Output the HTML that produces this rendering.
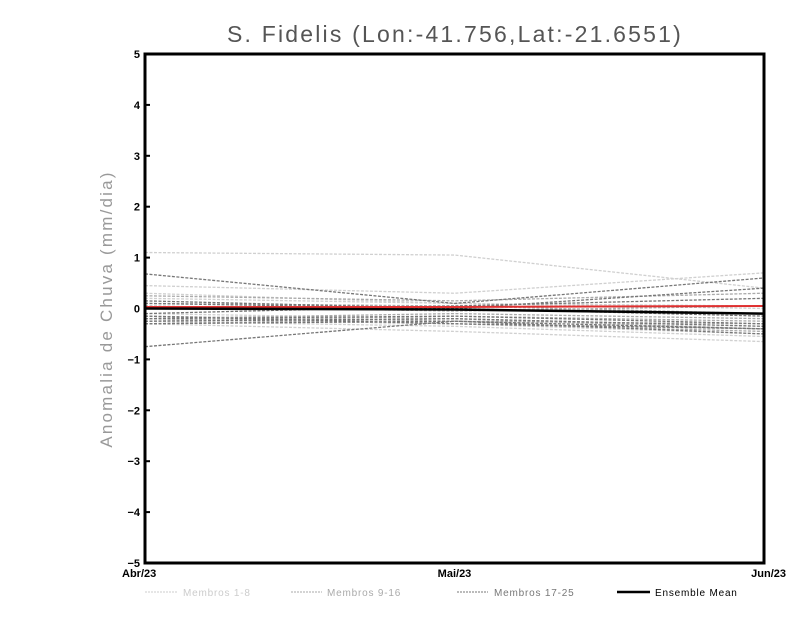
<!DOCTYPE html>
<html><head><meta charset="utf-8"><style>
body{margin:0;background:#fff;}
svg text{font-family:"Liberation Sans",sans-serif;}
</style></head><body>
<svg id="chart" width="800" height="618">
<text x="455" y="42" text-anchor="middle" font-size="23" letter-spacing="2.2" fill="#555">S. Fidelis (Lon:-41.756,Lat:-21.6551)</text>
<text transform="translate(112,309) rotate(-90)" text-anchor="middle" font-size="17" letter-spacing="2.2" fill="#999">Anomalia de Chuva (mm/dia)</text>
<g id="series"></g>
<rect x="145" y="54" width="619" height="509" fill="none" stroke="#000" stroke-width="3"/>
<g id="axes"></g>
<g font-size="10" letter-spacing="0.8">
<line x1="145" y1="592" x2="178" y2="592" stroke="#ccc" stroke-dasharray="2,1"/>
<text x="183" y="596" fill="#ccc">Membros 1-8</text>
<line x1="291" y1="592" x2="322" y2="592" stroke="#aaa" stroke-dasharray="2,1"/>
<text x="327" y="596" fill="#aaa">Membros 9-16</text>
<line x1="457" y1="592" x2="488" y2="592" stroke="#777" stroke-dasharray="2,1"/>
<text x="494" y="596" fill="#777">Membros 17-25</text>
<line x1="617" y1="592" x2="650" y2="592" stroke="#000" stroke-width="2.5"/>
<text x="655" y="596" fill="#000">Ensemble Mean</text>
</g>
</svg>
<script>
const months=["Abr/23","Mai/23","Jun/23"];
const yTicks=[-5,-4,-3,-2,-1,0,1,2,3,4,5];
const group1=[[1.1,1.05,0.4],[0.45,0.3,0.7],[0.3,0.1,0.05],[-0.2,-0.3,-0.5],[-0.3,-0.45,-0.65],[0.2,0.1,0.0],[-0.1,-0.2,-0.35],[-0.25,-0.35,-0.55]];
const group2=[[0.25,0.15,0.3],[-0.15,-0.25,-0.3],[-0.2,-0.1,-0.2],[0.1,0.05,-0.1],[-0.3,-0.2,-0.4],[-0.25,-0.15,-0.25],[0.05,-0.05,0.05],[-0.2,-0.3,-0.45]];
const group3=[[0.68,0.1,0.6],[-0.75,-0.25,-0.4],[-0.2,-0.15,-0.3],[-0.1,0.05,0.2],[0.15,0.0,0.4],[-0.3,-0.25,-0.5],[-0.25,-0.2,-0.35],[0.1,0.0,-0.15],[-0.15,-0.3,-0.4]];
const redSeries=[0.03,0.03,0.05];
const meanSeries=[0.0,-0.02,-0.1];
const NS="http://www.w3.org/2000/svg";
const x=i=>145+i*(619/(months.length-1));
const y=v=>308.5-v*50.9;
const S=document.getElementById('series'),A=document.getElementById('axes');
function line(vals,color,w,dash,name){
  const p=document.createElementNS(NS,'polyline');
  p.setAttribute('points',vals.map((v,i)=>x(i)+','+y(v)).join(' '));
  p.setAttribute('fill','none');p.setAttribute('stroke',color);p.setAttribute('stroke-width',w);
  if(dash)p.setAttribute('stroke-dasharray',dash);
  
  
  S.appendChild(p);
}
group1.forEach((s,i)=>line(s,'#d0d0d0',1.3,'3,1.5','member-'+(i+1)));
group2.forEach((s,i)=>line(s,'#aaa',1.3,'3,1.5','member-'+(i+9)));
group3.forEach((s,i)=>line(s,'#777',1.3,'3,1.5','member-'+(i+17)));
line(redSeries,'#e03030',2,null,'red-line');
line(meanSeries,'#000',2.5,null,'ensemble-mean-line');
yTicks.forEach(t=>{
  const tx=document.createElementNS(NS,'text');
  tx.setAttribute('x',140);tx.setAttribute('y',y(t)+4);tx.setAttribute('text-anchor','end');
  tx.setAttribute('font-size','11');tx.setAttribute('font-weight','bold');
  tx.textContent=(t<0?'\u2212':'')+Math.abs(t);
  
  
  A.appendChild(tx);
  const l=document.createElementNS(NS,'line');
  l.setAttribute('x1',145);l.setAttribute('x2',150);l.setAttribute('y1',y(t));l.setAttribute('y2',y(t));
  l.setAttribute('stroke','#000');l.setAttribute('stroke-width',2);
  
  
  A.appendChild(l);
});
months.forEach((m,i)=>{
  const tx=document.createElementNS(NS,'text');
  tx.setAttribute('x',x(i));tx.setAttribute('y',577);
  tx.setAttribute('text-anchor',i==0?'start':(i==months.length-1?'end':'middle'));
  if(i==0)tx.setAttribute('x',x(i)-23);
  if(i==months.length-1)tx.setAttribute('x',x(i)+22);
  tx.setAttribute('font-size','11');tx.setAttribute('font-weight','bold');
  tx.textContent=m;
  
  
  A.appendChild(tx);
});
</script>
</body></html>
